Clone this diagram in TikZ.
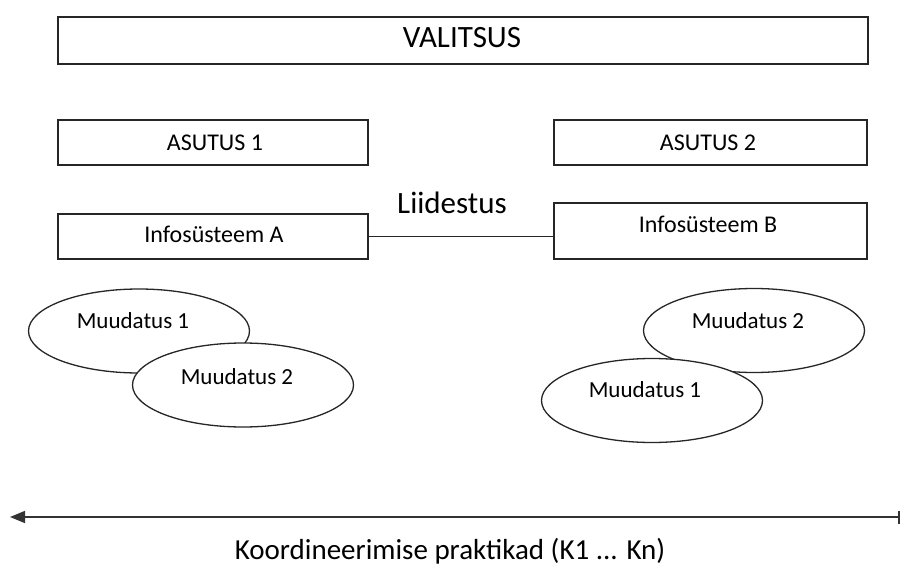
\documentclass[tikz,border=0pt]{standalone}
\usepackage{fontspec}
\setmainfont{Carlito}
\usetikzlibrary{arrows.meta,shapes.geometric}
\begin{document}
\begin{tikzpicture}[x=1pt,y=-1pt,
  frame/.style={draw=black!85,line width=1.3pt,fill=white,inner sep=0pt},
  oval/.style={ellipse,draw=black!85,line width=1.3pt,fill=white,inner sep=0pt,
    minimum width=221pt,minimum height=84pt},
  lbl/.style={font=\fontsize{24}{28}\selectfont,inner sep=0pt,anchor=base},
  ovallbl/.style={font=\fontsize{23}{27}\selectfont,inner sep=0pt,anchor=base},
  biglbl/.style={font=\fontsize{31}{36}\selectfont,inner sep=0pt,anchor=base}]
\useasboundingbox (0,0) rectangle (902,567);

% government frame
\node[frame,minimum width=810pt,minimum height=47pt] (gov) at (463,40.5) {};
\node[biglbl] (govt) at (462,48) {VALITSUS};

% agencies
\node[frame,minimum width=310pt,minimum height=45pt] (ag1) at (213,142.5) {};
\node[lbl] (ag1t) at (215,150) {ASUTUS 1};
\node[frame,minimum width=313pt,minimum height=45pt] (ag2) at (710.5,142.5) {};
\node[lbl] (ag2t) at (708,150) {ASUTUS 2};

% information systems and their interface
\node[frame,minimum width=310pt,minimum height=45pt] (isa) at (213,236.5) {};
\node[lbl] (isat) at (214,242) {Infosüsteem A};
\node[frame,minimum width=313pt,minimum height=56pt] (isb) at (710.5,231) {};
\node[lbl] (isbt) at (708,232) {Infosüsteem B};
\draw[draw=black!85,line width=1.3pt] (isa.east |- 0,236.5) coordinate (la) -- (isb.west |- la) coordinate (lb);
\node[biglbl] (link) at (452,213) {Liidestus};

% changes, left side
\node[oval] (m1a) at (139,331) {};
\node[ovallbl] (m1at) at (133,328) {Muudatus 1};
\node[oval] (m2a) at (243,385) {};
\node[ovallbl] (m2at) at (237,384) {Muudatus 2};

% changes, right side
\node[oval] (m2b) at (754,330.5) {};
\node[ovallbl] (m2bt) at (748,328) {Muudatus 2};
\node[oval] (m1b) at (652,400.5) {};
\node[ovallbl] (m1bt) at (645,397) {Muudatus 1};

% coordination axis
\coordinate (axl) at (10,517);
\coordinate (axr) at (900,517);
\draw[draw=black!80,line width=1.6pt,{Triangle[length=15pt,width=12pt]}-{Bar[width=13pt]}] (axl) -- (axr);
\node[font=\fontsize{29}{34}\selectfont,inner sep=0pt,anchor=base] (axt) at (450,559) {Koordineerimise praktikad (K1 ... Kn)};
\end{tikzpicture}
\end{document}
